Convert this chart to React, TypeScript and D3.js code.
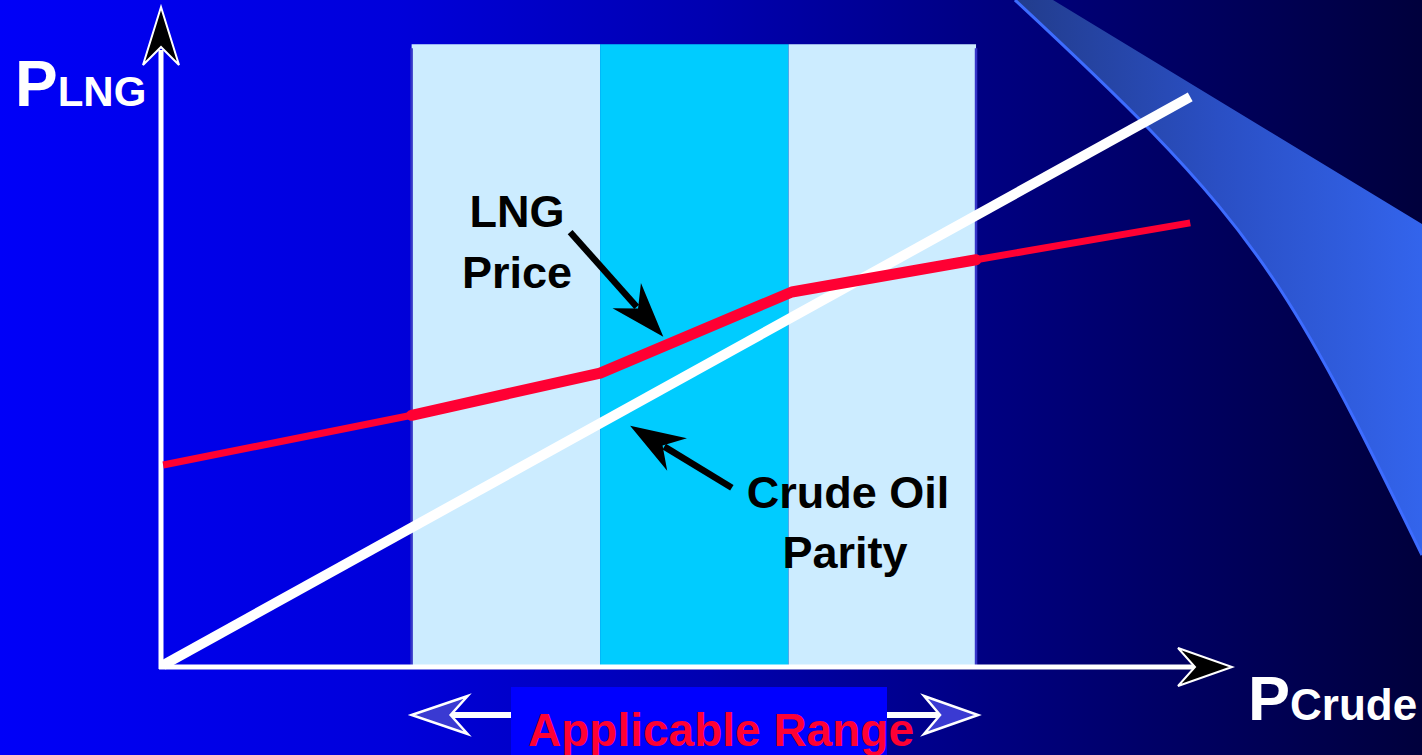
import React from "react";
import * as d3 from "d3";

// ---- data (chart units: crude price on x, LNG price on y, 0..100) ----
const rangeEdges = [23.4, 41.0, 58.6, 76.1];
const bandTop = 94.5;
const bandKinds = ["light", "dark", "light"];

const parityX = [0.2, 96.1];
const parityY = [0.3, 86.5];

const lngX = [0.2, 23.4, 41.0, 58.9, 76.1, 96.1];
const lngY = [30.65, 38.2, 44.6, 56.9, 61.8, 67.4];

// annotation arrows: [tailX, tailY, tipX, tipY]
const lngArrow = [38.2, 66.0, 46.9, 50.1];
const crudeArrow = [53.3, 27.2, 43.8, 36.6];

const W = 1422;
const H = 755;
const FONT = "'Liberation Sans', Arial, Helvetica, sans-serif";

function arrowHead(tx: number, ty: number, dx: number, dy: number, len: number, half: number, notch: number) {
  const L = Math.hypot(dx, dy);
  const ux = dx / L, uy = dy / L;
  const px = -uy, py = ux;
  const bx = tx - ux * len, by = ty - uy * len;
  const nx = tx - ux * notch, ny = ty - uy * notch;
  return `M${tx},${ty}L${bx + px * half},${by + py * half}L${nx},${ny}L${bx - px * half},${by - py * half}Z`;
}

export default function App() {
  const x = d3.scaleLinear().domain([0, 100]).range([161, 1232]);
  const y = d3.scaleLinear().domain([0, 100]).range([667, 8]);

  const line = d3.line<[number, number]>().x((d) => x(d[0])).y((d) => y(d[1]));
  const lngPts: [number, number][] = lngX.map((v, i) => [v, lngY[i]]);
  const parityPts: [number, number][] = parityX.map((v, i) => [v, parityY[i]]);

  const swoosh = d3
    .line<[number, number]>()
    .curve(d3.curveNatural)([
    [1422, 555],
    [1287, 300],
    [1150, 130],
    [1015, 0],
  ]) as string;

  const annot = (a: number[]) => {
    const tx = x(a[2]), ty = y(a[3]);
    const sx = x(a[0]), sy = y(a[1]);
    const dx = tx - sx, dy = ty - sy;
    const L = Math.hypot(dx, dy);
    const ex = tx - (dx / L) * 40, ey = ty - (dy / L) * 40;
    return (
      <g>
        <line x1={sx} y1={sy} x2={ex} y2={ey} stroke="#000" strokeWidth={6.5} />
        <path d={arrowHead(tx, ty, dx, dy, 55, 19, 38)} fill="#000" />
      </g>
    );
  };

  const xAxisY = y(0);
  const yAxisX = x(0);

  return (
    <svg width={W} height={H} style={{ position: "absolute", left: 0, top: 0, display: "block" }}>
      <defs>
        <linearGradient id="bg" x1="0" y1="0" x2="1" y2="0">
          <stop offset="0" stopColor="#0000F8" />
          <stop offset="0.28" stopColor="#0000DA" />
          <stop offset="0.5" stopColor="#0000B0" />
          <stop offset="0.7" stopColor="#000080" />
          <stop offset="1" stopColor="#00003C" />
        </linearGradient>
        <linearGradient id="sw" gradientUnits="userSpaceOnUse" x1="1015" y1="0" x2="1422" y2="0">
          <stop offset="0" stopColor="#223C8C" />
          <stop offset="0.5" stopColor="#2A4FC4" />
          <stop offset="1" stopColor="#3364EC" />
        </linearGradient>
      </defs>
      <rect x={0} y={0} width={W} height={H} fill="url(#bg)" />

      {/* decorative swoosh */}
      <path d={`M1053,0L1422,224L1422,555` + swoosh.replace(/^M[^C]*?(?=C)/, "") + "Z"} fill="url(#sw)" />
      <path d={swoosh} fill="none" stroke="#3D6CFF" strokeWidth={3} />

      {/* applicable range bands */}
      {bandKinds.map((k, i) => (
        <rect
          key={i}
          x={x(rangeEdges[i])}
          y={y(bandTop)}
          width={x(rangeEdges[i + 1]) - x(rangeEdges[i])}
          height={xAxisY - y(bandTop)}
          fill={k === "dark" ? "#00CCFF" : "#CCECFF"}
        />
      ))}
      {[rangeEdges[0], rangeEdges[3]].map((v, i) => (
        <line key={i} x1={x(v)} x2={x(v)} y1={y(bandTop) + 4} y2={xAxisY} stroke="#3535C8" strokeWidth={2.5} />
      ))}

      {/* axes */}
      <line x1={yAxisX} x2={yAxisX} y1={xAxisY + 2} y2={50} stroke="#fff" strokeWidth={5} />
      <line x1={yAxisX - 2} x2={1200} y1={xAxisY} y2={xAxisY} stroke="#fff" strokeWidth={5} />
      <path d={arrowHead(yAxisX, 7, 0, -1, 58, 18, 40)} fill="#000" stroke="#fff" strokeWidth={2} />
      <path d={arrowHead(1232, xAxisY, 1, 0, 54, 19, 37)} fill="#000" stroke="#fff" strokeWidth={2} />

      {/* crude oil parity */}
      <path d={line(parityPts) as string} fill="none" stroke="#fff" strokeWidth={10} />

      {/* LNG price */}
      <path d={line(lngPts.slice(0, 2)) as string} fill="none" stroke="#FF0033" strokeWidth={7} />
      <path d={line(lngPts.slice(4)) as string} fill="none" stroke="#FF0033" strokeWidth={7} />
      <path
        d={line(lngPts.slice(1, 5)) as string}
        fill="none"
        stroke="#FF0033"
        strokeWidth={11}
        strokeLinejoin="round"
        strokeLinecap="round"
      />

      {/* annotations */}
      {annot(lngArrow)}
      {annot(crudeArrow)}

      <g fontFamily={FONT} fontWeight="bold" fill="#000" textAnchor="middle" fontSize={45}>
        <text x={517} y={227}>LNG</text>
        <text x={517} y={288}>Price</text>
        <text x={848} y={508}>Crude Oil</text>
        <text x={845} y={568}>Parity</text>
      </g>

      {/* axis titles */}
      <text x={15} y={106} fontFamily={FONT} fontWeight="bold" fill="#fff">
        <tspan fontSize={64}>P</tspan>
        <tspan fontSize={42}>LNG</tspan>
      </text>
      <text x={1248} y={720} fontFamily={FONT} fontWeight="bold" fill="#fff">
        <tspan fontSize={63}>P</tspan>
        <tspan fontSize={44}>Crude</tspan>
      </text>

      {/* applicable range */}
      <line x1={450} x2={940} y1={715} y2={715} stroke="#fff" strokeWidth={6} />
      <path d={arrowHead(x(rangeEdges[0]), 715, -1, 0, 56, 19, 39)} fill="#3A3AD2" stroke="#fff" strokeWidth={2.5} />
      <path d={arrowHead(x(rangeEdges[3]) + 2, 715, 1, 0, 54, 19, 38)} fill="#3A3AD2" stroke="#fff" strokeWidth={2.5} />
      <rect x={511} y={687} width={376} height={70} fill="#0000FF" />
      <text x={528} y={746} fontFamily={FONT} fontWeight="bold" fontSize={46} fill="#FF0033">
        Applicable Range
      </text>
    </svg>
  );
}
